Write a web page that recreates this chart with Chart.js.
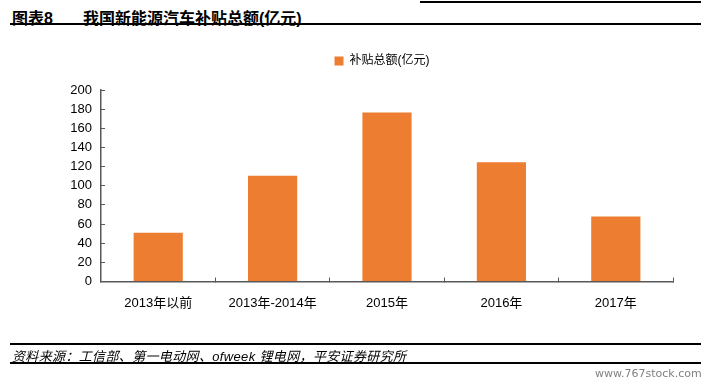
<!DOCTYPE html>
<html><head><meta charset="utf-8">
<script src="https://cdn.jsdelivr.net/npm/chart.js@4"></script>
<style>
html,body{margin:0;padding:0;background:#fff;width:714px;height:381px;overflow:hidden;font-family:"Liberation Sans",Arial,"Noto Sans CJK SC",sans-serif;}
#wrap{position:absolute;left:0;top:0;width:714px;height:381px;}
canvas{position:absolute;left:0;top:0;}
.t{position:absolute;white-space:nowrap;color:#000;}
.ln{position:absolute;background:#000;height:2px;}
</style></head><body>
<div id="wrap">
<div class="ln" style="left:420px;top:1px;width:281px;"></div>
<div class="t" style="left:12px;top:5px;font-size:16px;font-weight:bold;font-family:'Liberation Sans','Noto Sans CJK SC';">图表8</div>
<div class="t" style="left:83px;top:5px;font-size:16px;font-weight:bold;font-family:'Liberation Sans','Noto Sans CJK SC';">我国新能源汽车补贴总额(亿元)</div>
<div class="ln" style="left:10px;top:23px;width:691px;"></div>
<canvas id="c" width="714" height="381"></canvas>
<div class="ln" style="left:10px;top:343px;width:691px;"></div>
<div class="t" style="left:12px;top:346px;font-size:13px;letter-spacing:0.35px;font-style:italic;font-family:'Liberation Sans','Noto Sans CJK SC';">资料来源：工信部、第一电动网、ofweek 锂电网，平安证券研究所</div>
<div class="ln" style="left:10px;top:362px;width:691px;"></div>
<div class="t" style="left:595px;top:367px;font-size:11px;color:#808080;font-family:'DejaVu Sans';">www.767stock.com</div>
</div>
<script>
const categories = ["2013年以前", "2013年-2014年", "2015年", "2016年", "2017年"];
const seriesName = "补贴总额(亿元)";
const subsidyValues = [51, 110.5, 176.5, 124.5, 68];
const yTicks = [0, 20, 40, 60, 80, 100, 120, 140, 160, 180, 200];

const axisColor = "#595959";
const legendGap = {
  id: "legendGap",
  beforeLayout(chart) {
    const lg = chart.legend;
    if (lg && !lg._gapPatched) {
      const orig = lg.fit;
      lg.fit = function () { orig.apply(this, arguments); this.height += 13; };
      lg._gapPatched = true;
    }
  },
  afterLayout(chart) {
    const lg = chart.legend;
    if (lg) { lg.left = chart.chartArea.left - 10; lg.right = chart.chartArea.right; }
  }
};
new Chart(document.getElementById("c"), {
  type: "bar",
  data: {
    labels: categories,
    datasets: [{
      label: seriesName,
      data: subsidyValues,
      backgroundColor: "#ED7D31",
      borderWidth: 0,
      categoryPercentage: 1,
      barPercentage: 0.43
    }]
  },
  plugins: [legendGap],
  options: {
    responsive: false,
    animation: false,
    devicePixelRatio: 1,
    layout: { padding: { left: 0, right: 41, top: 48, bottom: 0 } },
    plugins: {
      legend: {
        position: "top",
        labels: {
          boxWidth: 9, boxHeight: 9, padding: 7,
          color: "#000",
          font: { family: "'Liberation Sans','Noto Sans CJK SC'", size: 12 }
        }
      },
      tooltip: { enabled: false }
    },
    scales: {
      x: {
        offset: true,
        grid: { offset: true, drawOnChartArea: false, drawTicks: true, tickLength: -4, color: axisColor, lineWidth: 1 },
        border: { display: true, color: axisColor, width: 1.5 },
        ticks: { color: "#000", padding: 18, font: { family: "'Liberation Sans','Noto Sans CJK SC'", size: 13 }, maxRotation: 0 },
        afterFit: s => { s.height = 99.5; }
      },
      y: {
        min: 0, max: 200,
        afterBuildTicks: s => { s.ticks = yTicks.map(v => ({ value: v })); },
        grid: { drawOnChartArea: false, drawTicks: true, tickLength: -4, color: axisColor, lineWidth: 1 },
        border: { display: true, color: axisColor, width: 1.5 },
        ticks: { color: "#000", padding: 13, font: { family: "'Liberation Sans'", size: 13 } },
        afterFit: s => { s.width = 101; }
      }
    }
  }
});
</script>
</body></html>
